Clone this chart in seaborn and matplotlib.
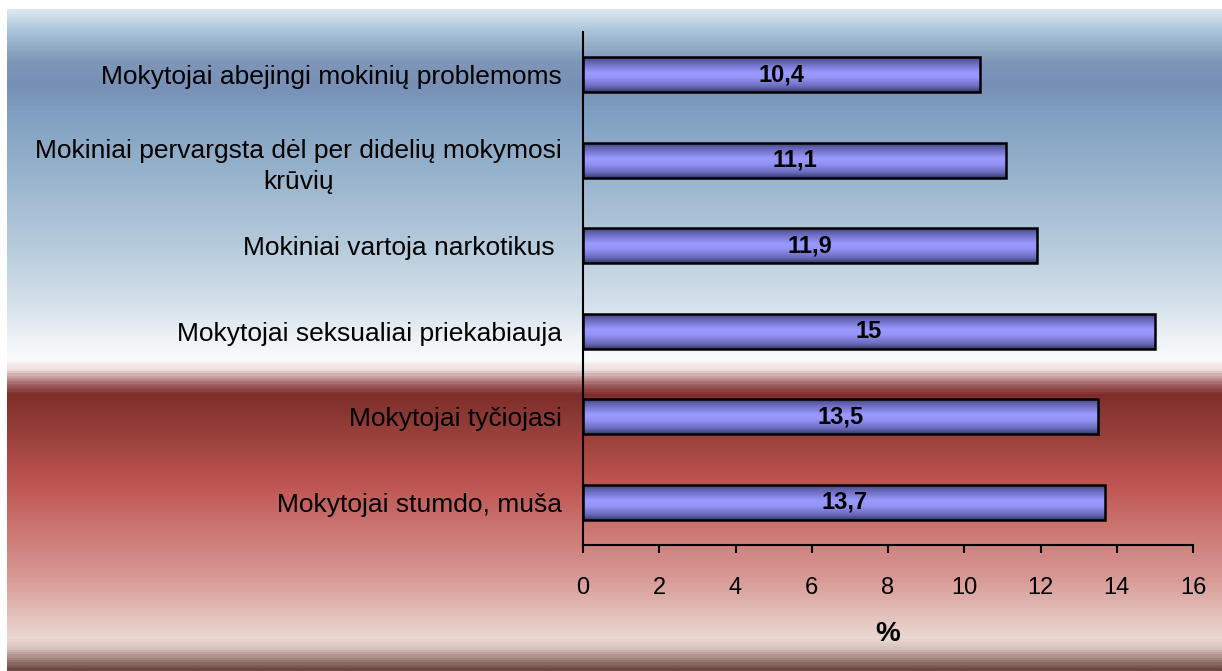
import matplotlib

matplotlib.use('Agg')

import matplotlib.pyplot as plt
from matplotlib.colors import LinearSegmentedColormap
import seaborn as sns
import numpy as np
import pandas as pd


categories = [
    'Mokytojai abejingi mokinių problemoms',
    'Mokiniai pervargsta dėl per didelių mokymosi\nkrūvių',
    'Mokiniai vartoja narkotikus ',
    'Mokytojai seksualiai priekabiauja',
    'Mokytojai tyčiojasi',
    'Mokytojai stumdo, muša',
]

values = [10.4, 11.1, 11.9, 15, 13.5, 13.7]

x_ticks = [0, 2, 4, 6, 8, 10, 12, 14, 16]

x_label = '%'


def fmt_value(v):

    if float(v).is_integer():
        return f'{int(v)}'

    return f'{v}'.replace('.', ',')


# background stripes, pixel rows from top of the figure
bg_stops = [
    (9, '#d9e7f1'),
    (30, '#a9c3d8'),
    (60, '#7e96b8'),
    (85, '#7890b6'),
    (110, '#7f9ec0'),
    (170, '#96b2cc'),
    (250, '#b8cddd'),
    (300, '#d2e0ea'),
    (340, '#eef3f7'),
    (360, '#fafbfc'),
    (370, '#eedcdc'),
    (385, '#a06060'),
    (395, '#7e2e2a'),
    (420, '#8e3a36'),
    (470, '#b54e4a'),
    (490, '#c05855'),
    (530, '#cb7672'),
    (580, '#d89a96'),
    (620, '#e4c4be'),
    (640, '#ead8d2'),
    (650, '#d8c4be'),
    (660, '#a88680'),
    (671, '#6e4a44'),
]

W, H = 1222, 671

sns.set_style('white')

plt.rcParams['font.family'] = ['Liberation Sans', 'DejaVu Sans']
plt.rcParams['text.color'] = 'black'
plt.rcParams['axes.labelcolor'] = 'black'
plt.rcParams['xtick.color'] = 'black'
plt.rcParams['ytick.color'] = 'black'

fig = plt.figure(
    figsize=(W / 100, H / 100),
    dpi=100,
)

y0 = bg_stops[0][0]
y1 = bg_stops[-1][0]

bg_cmap = LinearSegmentedColormap.from_list(
    'bg',
    [((y - y0) / (y1 - y0), c) for y, c in bg_stops],
)

bg_ax = fig.add_axes(
    [7 / W, 0, 1 - 7 / W, (H - y0) / H],
    zorder=-5,
)

bg_ax.imshow(
    np.linspace(0, 1, 600).reshape(-1, 1),
    cmap=bg_cmap,
    aspect='auto',
    extent=(0, 1, 0, 1),
)

bg_ax.set_axis_off()

ax = fig.add_axes(
    [583 / W, (H - 545) / H, 610 / W, 513 / H],
)

ax.set_facecolor('none')

df = pd.DataFrame({
    'kategorija': categories,
    'reiksme': values,
})

sns.barplot(
    data=df,
    x='reiksme',
    y='kategorija',
    order=categories,
    orient='h',
    width=0.41,
    color='#9999ff',
    edgecolor='black',
    linewidth=1.8,
    ax=ax,
)

bar_cmap = LinearSegmentedColormap.from_list(
    'bar',
    [
        (0.0, '#3c3c6e'),
        (0.15, '#6262b0'),
        (0.45, '#9999ff'),
        (0.6, '#9595f8'),
        (0.85, '#6a6abc'),
        (1.0, '#3a3a68'),
    ],
)

for patch in ax.patches:

    x, y = patch.get_xy()
    w, h = patch.get_width(), patch.get_height()

    grad = ax.imshow(
        np.linspace(0, 1, 100).reshape(-1, 1),
        cmap=bar_cmap,
        aspect='auto',
        extent=(x, x + w, y + h, y),
        zorder=patch.get_zorder(),
    )

    grad.set_clip_path(patch)

    patch.set_facecolor('none')
    patch.set_zorder(patch.get_zorder() + 0.5)

ax.set_xlim(0, 16)
ax.set_ylim(5.5, -0.5)

ax.bar_label(
    ax.containers[0],
    labels=[fmt_value(v) for v in values],
    label_type='center',
    fontsize=17,
    fontweight='bold',
    color='black',
)

ax.set_xticks(x_ticks)

ax.tick_params(
    axis='x',
    direction='out',
    length=6,
    width=1.5,
    pad=17,
    labelsize=17,
    bottom=True,
)

ax.tick_params(
    axis='y',
    length=0,
    pad=15,
    labelsize=19,
)

for lbl in ax.get_yticklabels():
    lbl.set_multialignment('center')
    lbl.set_linespacing(1.4)

ax.set_xlabel(
    x_label,
    fontsize=20,
    fontweight='bold',
    labelpad=16,
)

ax.set_ylabel('')

for side in ['top', 'right']:
    ax.spines[side].set_visible(False)

for side in ['left', 'bottom']:
    ax.spines[side].set_color('black')
    ax.spines[side].set_linewidth(1.5)

plt.savefig(
    'out.png',
    dpi=100,
)

plt.close()
